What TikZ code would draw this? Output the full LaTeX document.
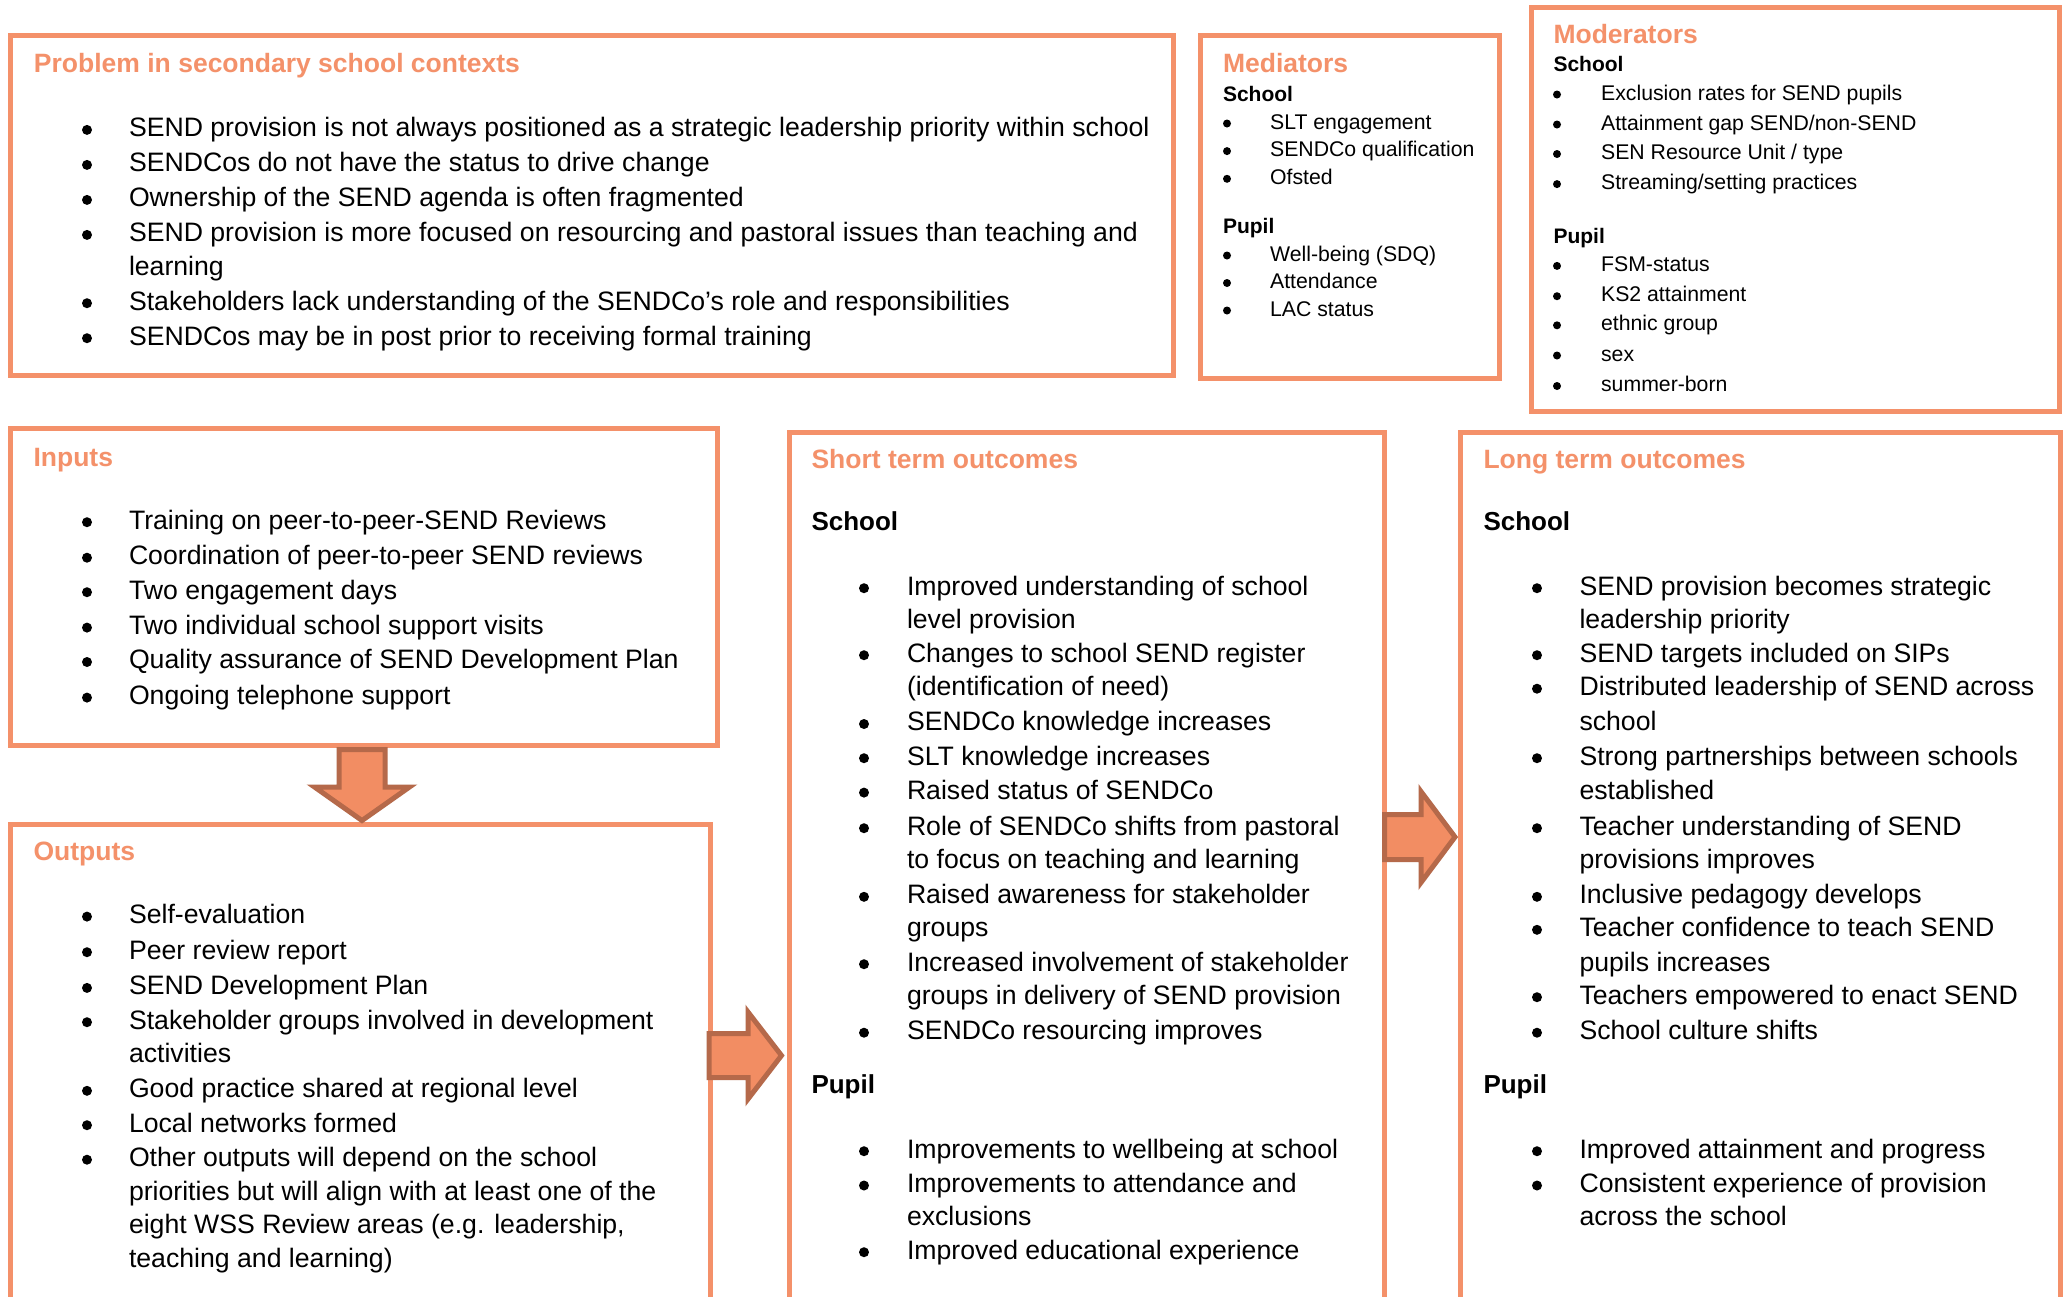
\documentclass[tikz,border=0pt]{standalone}
\usepackage{fontspec}
\setmainfont{Liberation Sans}
\usetikzlibrary{fit}
\definecolor{boxor}{HTML}{F4916A}
\definecolor{arrfill}{HTML}{F28D63}
\definecolor{arredge}{HTML}{B5694A}
\tikzset{
  box/.style={draw=boxor, line width=2pt, inner sep=0pt},
  ttl/.style={anchor=base west, inner sep=0pt, text=boxor, font=\fontsize{10.6}{12}\selectfont\bfseries},
  body/.style={anchor=base west, inner sep=0pt, font=\fontsize{10.66}{12}\selectfont},
  small/.style={anchor=base west, inner sep=0pt, font=\fontsize{8.5}{10}\selectfont},
  bighead/.style={anchor=base west, inner sep=0pt, font=\fontsize{10.4}{12}\selectfont\bfseries},
  smallhead/.style={anchor=base west, inner sep=0pt, font=\fontsize{8.4}{10}\selectfont\bfseries},
  blockarrow/.style={fill=arrfill, draw=arredge, line width=2pt, miter limit=10},
}
% body item: name, bullet x, text x, baseline y, text
\newcommand\bitem[5]{\fill (#2,#4-6.8) circle (2pt); \node[body] (#1) at (#3,#4) {#5};}
% continuation line
\newcommand\contline[4]{\node[body] (#1) at (#2,#3) {#4};}
% small item
\newcommand\sitem[5]{\fill (#2,#4-5.5) circle (1.6pt); \node[small] (#1) at (#3,#4) {#5};}
\begin{document}
\begin{tikzpicture}[x=0.4pt,y=-0.4pt]
\useasboundingbox (0,0) rectangle (2069,1296);
\clip (0,0) rectangle (2069,1296);
\fill[white] (0,0) rectangle (2069,1296);

% ---------- boxes ----------
\node[box, fit={(10.5,35.5) (1173.5,375.5)}] (prob) {};
\node[box, fit={(1200.5,35.5) (1499.5,378)}] (med) {};
\node[box, fit={(1531,7) (2059.5,411.5)}] (mod) {};
\node[box, fit={(10.5,428) (717,745)}] (inp) {};
\node[box, fit={(10.5,824.5) (710,1400)}] (outp) {};
\node[box, fit={(789,432) (1384.5,1400)}] (stout) {};
\node[box, fit={(1460.5,432) (2060.5,1400)}] (ltout) {};

% ---------- block arrows ----------
\draw[blockarrow] (339,749.5) -- (385,749.5) -- (385,787) -- (409.5,787) -- (362,820.5)
   -- (314.5,787) -- (339,787) -- cycle;
\draw[blockarrow] (709,1033.5) -- (748,1033.5) -- (748,1012) -- (781.5,1055.5) -- (748,1099)
   -- (748,1077.5) -- (709,1077.5) -- cycle;
\draw[blockarrow] (1384.5,814.5) -- (1421,814.5) -- (1421,791.5) -- (1455,837) -- (1421,882.5)
   -- (1421,859.5) -- (1384.5,859.5) -- cycle;

% ---------- Problem ----------
\node[ttl] (probT) at (33.5,72.5) {Problem in secondary school contexts};
\bitem{p1}{87}{128.5}{136.7}{SEND provision is not always positioned as a strategic leadership priority within school}
\bitem{p2}{87}{128.5}{171.7}{SENDCos do not have the status to drive change}
\bitem{p3}{87}{128.5}{206.7}{Ownership of the SEND agenda is often fragmented}
\bitem{p4}{87}{128.5}{241.7}{SEND provision is more focused on resourcing and pastoral issues than teaching and}
\contline{p4b}{128.5}{275.5}{learning}
\bitem{p5}{87}{128.5}{310}{Stakeholders lack understanding of the SENDCo’s role and responsibilities}
\bitem{p6}{87}{128.5}{345}{SENDCos may be in post prior to receiving formal training}

% ---------- Mediators ----------
\node[ttl] (medT) at (1222.5,72.5) {Mediators};
\node[smallhead] (medS) at (1222.5,101) {School};
\sitem{m1}{1227}{1269.6}{129}{SLT engagement}
\sitem{m2}{1227}{1269.6}{156.6}{SENDCo qualification}
\sitem{m3}{1227}{1269.6}{184.3}{Ofsted}
\node[smallhead] (medP) at (1222.5,233) {Pupil};
\sitem{m4}{1227}{1269.6}{261}{Well-being (SDQ)}
\sitem{m5}{1227}{1269.6}{288.5}{Attendance}
\sitem{m6}{1227}{1269.6}{316}{LAC status}

% ---------- Moderators ----------
\node[ttl] (modT) at (1553,43.5) {Moderators};
\node[smallhead] (modS) at (1553,71) {School};
\sitem{d1}{1557}{1600.6}{100}{Exclusion rates for SEND pupils}
\sitem{d2}{1557}{1600.6}{130}{Attainment gap SEND/non-SEND}
\sitem{d3}{1557}{1600.6}{159.5}{SEN Resource Unit / type}
\sitem{d4}{1557}{1600.6}{189.6}{Streaming/setting practices}
\node[smallhead] (modP) at (1553,243.7) {Pupil};
\sitem{d5}{1557}{1600.6}{271.4}{FSM-status}
\sitem{d6}{1557}{1600.6}{301.7}{KS2 attainment}
\sitem{d7}{1557}{1600.6}{330.8}{ethnic group}
\sitem{d8}{1557}{1600.6}{361}{sex}
\sitem{d9}{1557}{1600.6}{391.5}{summer-born}

% ---------- Inputs ----------
\node[ttl] (inpT) at (33,466) {Inputs};
\bitem{i1}{87}{128.5}{529}{Training on peer-to-peer-SEND Reviews}
\bitem{i2}{87}{128.5}{564.5}{Coordination of peer-to-peer SEND reviews}
\bitem{i3}{87}{128.5}{599}{Two engagement days}
\bitem{i4}{87}{128.5}{634.4}{Two individual school support visits}
\bitem{i5}{87}{128.5}{668.8}{Quality assurance of SEND Development Plan}
\bitem{i6}{87}{128.5}{704.4}{Ongoing telephone support}

% ---------- Outputs ----------
\node[ttl] (outT) at (33,860.5) {Outputs};
\bitem{o1}{87}{128.5}{923.4}{Self-evaluation}
\bitem{o2}{87}{128.5}{959}{Peer review report}
\bitem{o3}{87}{128.5}{994.7}{SEND Development Plan}
\bitem{o4}{87}{128.5}{1029}{Stakeholder groups involved in development}
\contline{o4b}{128.5}{1062.5}{activities}
\bitem{o5}{87}{128.5}{1097.6}{Good practice shared at regional level}
\bitem{o6}{87}{128.5}{1132}{Local networks formed}
\bitem{o7}{87}{128.5}{1166.5}{Other outputs will depend on the school}
\contline{o7b}{128.5}{1200}{priorities but will align with at least one of the}
\contline{o7c}{128.5}{1233.5}{eight WSS Review areas (e.g. leadership,}
\contline{o7d}{128.5}{1267}{teaching and learning)}

% ---------- Short term outcomes ----------
\node[ttl] (stT) at (811,468.5) {Short term outcomes};
\node[bighead] (stS) at (811,530) {School};
\bitem{s1}{864}{906.5}{595}{Improved understanding of school}
\contline{s1b}{906.5}{628}{level provision}
\bitem{s2}{864}{906.5}{662}{Changes to school SEND register}
\contline{s2b}{906.5}{695.5}{(identification of need)}
\bitem{s3}{864}{906.5}{730.8}{SENDCo knowledge increases}
\bitem{s4}{864}{906.5}{765}{SLT knowledge increases}
\bitem{s5}{864}{906.5}{799.4}{Raised status of SENDCo}
\bitem{s6}{864}{906.5}{835}{Role of SENDCo shifts from pastoral}
\contline{s6b}{906.5}{868}{to focus on teaching and learning}
\bitem{s7}{864}{906.5}{903.6}{Raised awareness for stakeholder}
\contline{s7b}{906.5}{936.6}{groups}
\bitem{s8}{864}{906.5}{971}{Increased involvement of stakeholder}
\contline{s8b}{906.5}{1004}{groups in delivery of SEND provision}
\bitem{s9}{864}{906.5}{1039.5}{SENDCo resourcing improves}
\node[bighead] (stP) at (811,1093.5) {Pupil};
\bitem{s10}{864}{906.5}{1158}{Improvements to wellbeing at school}
\bitem{s11}{864}{906.5}{1192.3}{Improvements to attendance and}
\contline{s11b}{906.5}{1225}{exclusions}
\bitem{s12}{864}{906.5}{1259}{Improved educational experience}

% ---------- Long term outcomes ----------
\node[ttl] (ltT) at (1483,468.5) {Long term outcomes};
\node[bighead] (ltS) at (1483,530) {School};
\bitem{l1}{1537}{1579}{595}{SEND provision becomes strategic}
\contline{l1b}{1579}{628}{leadership priority}
\bitem{l2}{1537}{1579}{662}{SEND targets included on SIPs}
\bitem{l3}{1537}{1579}{695.5}{Distributed leadership of SEND across}
\contline{l3b}{1579}{730.8}{school}
\bitem{l4}{1537}{1579}{765}{Strong partnerships between schools}
\contline{l4b}{1579}{799.4}{established}
\bitem{l5}{1537}{1579}{835}{Teacher understanding of SEND}
\contline{l5b}{1579}{868}{provisions improves}
\bitem{l6}{1537}{1579}{903.6}{Inclusive pedagogy develops}
\bitem{l7}{1537}{1579}{936.6}{Teacher confidence to teach SEND}
\contline{l7b}{1579}{971}{pupils increases}
\bitem{l8}{1537}{1579}{1004}{Teachers empowered to enact SEND}
\bitem{l9}{1537}{1579}{1039.5}{School culture shifts}
\node[bighead] (ltP) at (1483,1093.5) {Pupil};
\bitem{l10}{1537}{1579}{1158}{Improved attainment and progress}
\bitem{l11}{1537}{1579}{1192.3}{Consistent experience of provision}
\contline{l11b}{1579}{1225}{across the school}
\end{tikzpicture}
\end{document}
